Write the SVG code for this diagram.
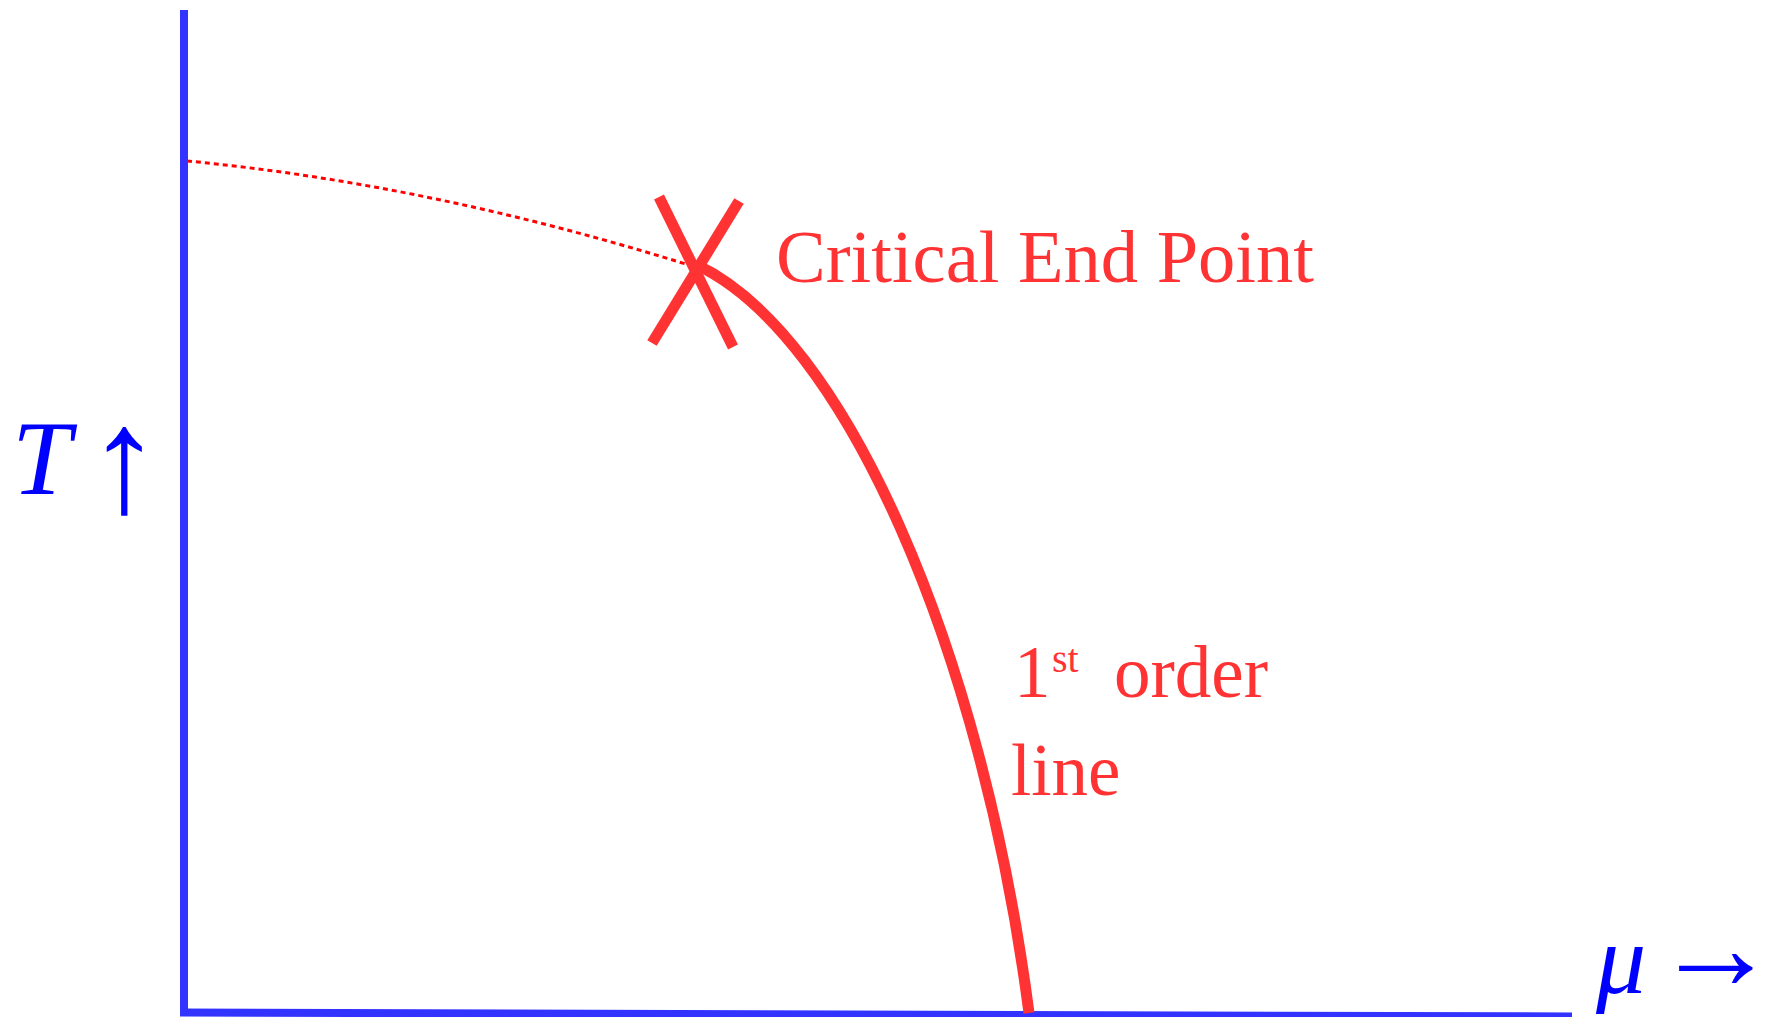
<svg xmlns="http://www.w3.org/2000/svg" width="1768" height="1017" viewBox="0 0 1768 1017">
<style>
.axis{stroke:#3333ff;stroke-width:8;fill:none}
.red{stroke:#ff3333;stroke-width:11;fill:none}
.lbl{font-family:"Liberation Serif","Times New Roman",serif;fill:#ff3333}
.math{font-family:"Liberation Serif","Times New Roman",serif;fill:#0000ff}
</style>
<rect width="1768" height="1017" fill="#ffffff"/>
<g id="axes">
<line class="axis" x1="184" y1="10" x2="184" y2="1016"/>
<line class="axis" x1="180" y1="1012.5" x2="1572" y2="1016.5"/>
</g>
<g id="connectors">
<path d="M187,161 Q430,184 692,266" fill="none" stroke="#ff0000" stroke-width="3" stroke-dasharray="5 4"/>
<path class="red" d="M697,265 C845,335 982,650 1029,1013"/>
</g>
<g id="critical-end-point">
<line class="red" x1="659" y1="197" x2="733" y2="347"/>
<line class="red" x1="739" y1="201" x2="652" y2="343"/>
<text class="lbl" x="776" y="282" font-size="74.5">Critical End Point</text>
</g>
<g id="first-order-label">
<text class="lbl" x="1014" y="697" font-size="73">1<tspan x="1052" y="672" font-size="40">st</tspan><tspan x="1114" y="697">order</tspan></text>
<text class="lbl" x="1011" y="795" font-size="73">line</text>
</g>
<g id="T-label">
<text class="math" x="12" y="494" font-size="106" font-style="italic">T</text>
<text class="math" x="87" y="511" font-size="150">↑</text>
</g>
<g id="mu-label">
<text class="math" x="1596" y="993" font-size="100" font-style="italic">μ</text>
<text class="math" x="1654" y="989" font-size="124">→</text>
</g>
</svg>
